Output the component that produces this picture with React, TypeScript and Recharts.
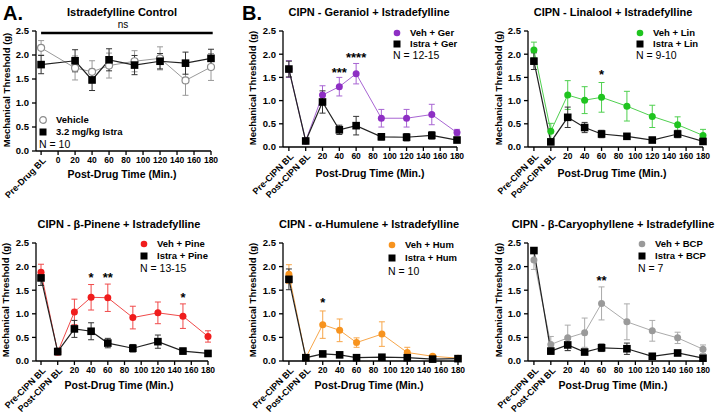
import React from 'react';
import { ComposedChart, Line, XAxis, YAxis, ErrorBar, Scatter, ReferenceLine } from 'recharts';

const FONT = '"Liberation Sans", Arial, sans-serif';

// time points (Pre BL plotted at -20, Post BL at 0)
const timesA = [-20, 20, 40, 60, 90, 120, 150, 180];
const times = [-20, 0, 20, 40, 60, 90, 120, 150, 180];
const xTicks = [-20, 0, 20, 40, 60, 80, 100, 120, 140, 160, 180];
const yTicks = [0, 0.5, 1, 1.5, 2, 2.5];
const yTickLabels = ['0.0', '0.5', '1.0', '1.5', '2.0', '2.5'];

// A. Istradefylline control
const ctrlVehMean = [2.15, 1.73, 1.65, 1.78, 1.87, 1.93, 1.47, 1.75];
const ctrlVehSem = [0.15, 0.25, 0.23, 0.26, 0.22, 0.24, 0.31, 0.28];
const ctrlIstraMean = [1.8, 1.88, 1.48, 1.9, 1.79, 1.87, 1.83, 1.93];
const ctrlIstraSem = [0.19, 0.23, 0.22, 0.23, 0.2, 0.16, 0.23, 0.19];

// Geraniol
const gerVehMean = [1.68, 0.13, 1.12, 1.3, 1.58, 0.62, 0.62, 0.7, 0.31];
const gerVehSem = [0.18, 0.03, 0.2, 0.2, 0.22, 0.19, 0.19, 0.22, 0.07];
const gerIstraMean = [1.68, 0.13, 0.97, 0.37, 0.46, 0.22, 0.21, 0.25, 0.15];
const gerIstraSem = [0.17, 0.03, 0.24, 0.1, 0.2, 0.07, 0.08, 0.08, 0.05];

// Linalool
const linVehMean = [2.09, 0.34, 1.12, 1.01, 1.07, 0.88, 0.66, 0.48, 0.25];
const linVehSem = [0.17, 0.17, 0.31, 0.29, 0.32, 0.32, 0.24, 0.17, 0.13];
const linIstraMean = [1.85, 0.11, 0.64, 0.42, 0.28, 0.23, 0.15, 0.28, 0.12];
const linIstraSem = [0.18, 0.04, 0.22, 0.11, 0.08, 0.06, 0.04, 0.08, 0.05];

// beta-Pinene
const pinVehMean = [1.88, 0.19, 1.04, 1.35, 1.34, 0.92, 1.02, 0.95, 0.52];
const pinVehSem = [0.17, 0.06, 0.27, 0.27, 0.29, 0.24, 0.23, 0.26, 0.12];
const pinIstraMean = [1.76, 0.2, 0.68, 0.63, 0.38, 0.27, 0.41, 0.21, 0.16];
const pinIstraSem = [0.16, 0.07, 0.18, 0.18, 0.1, 0.08, 0.14, 0.06, 0.06];

// alpha-Humulene
const humVehMean = [1.84, 0.07, 0.77, 0.65, 0.39, 0.57, 0.18, 0.1, 0.06];
const humVehSem = [0.2, 0.02, 0.29, 0.24, 0.1, 0.26, 0.11, 0.04, 0.02];
const humIstraMean = [1.73, 0.07, 0.15, 0.13, 0.07, 0.08, 0.07, 0.04, 0.05];
const humIstraSem = [0.22, 0.02, 0.03, 0.03, 0.02, 0.02, 0.02, 0.02, 0.02];

// beta-Caryophyllene
const bcpVehMean = [2.14, 0.35, 0.49, 0.6, 1.22, 0.83, 0.64, 0.49, 0.25];
const bcpVehSem = [0.2, 0.17, 0.27, 0.31, 0.35, 0.38, 0.22, 0.12, 0.09];
const bcpIstraMean = [2.34, 0.21, 0.34, 0.19, 0.28, 0.26, 0.1, 0.17, 0.06];
const bcpIstraSem = [0.05, 0.06, 0.12, 0.05, 0.08, 0.12, 0.03, 0.05, 0.04];

// significance marks
const gerStars = [{ t: 40, y: 1.66, label: '***' }, { t: 60, y: 1.98, label: '****' }];
const linStars = [{ t: 60, y: 1.62, label: '*' }];
const pinStars = [{ t: 40, y: 1.82, label: '*' }, { t: 60, y: 1.82, label: '**' }, { t: 150, y: 1.4, label: '*' }];
const humStars = [{ t: 20, y: 1.29, label: '*' }];
const bcpStars = [{ t: 60, y: 1.76, label: '**' }];

type Shape = 'open' | 'circle' | 'square';

const makeRows = (ts: number[], vm: number[], vs: number[], im: number[], is: number[]) =>
  ts.map((t, i) => ({ t, veh: vm[i], vehErr: vs[i], istra: im[i], istraErr: is[i] }));

const makeDot = (shape: Shape, color: string) => (props: any) => {
  const { cx, cy, index } = props;
  if (cx == null || cy == null) return <g key={index} />;
  if (shape === 'square') return <rect key={index} x={cx - 3.8} y={cy - 3.8} width={7.6} height={7.6} fill="#000" />;
  if (shape === 'open') return <circle key={index} cx={cx} cy={cy} r={3.5} fill="#fff" stroke={color} strokeWidth={1.2} />;
  return <circle key={index} cx={cx} cy={cy} r={3.5} fill={color} />;
};

const Txt = ({ x, y, children, size = 10, weight = 700, rotate = 0, anchor = 'center' }: any) => (
  <div
    style={{
      position: 'absolute', left: x, top: y, whiteSpace: 'nowrap', fontFamily: FONT, fontSize: size,
      fontWeight: weight, color: '#000', lineHeight: 1,
      transform: `translate(${anchor === 'left' ? '0' : '-50%'}, -50%) rotate(${rotate}deg)`,
    }}
  >
    {children}
  </div>
);

const Marker = ({ shape, color }: { shape: Shape; color: string }) => (
  <svg width={10} height={10} style={{ position: 'absolute', left: -5, top: -5 }}>
    {shape === 'square' ? <rect x={1.5} y={1.5} width={7} height={7} fill="#000" />
      : shape === 'open' ? <circle cx={5} cy={5} r={3.3} fill="#fff" stroke={color} strokeWidth={1.2} />
      : <circle cx={5} cy={5} r={3.3} fill={color} />}
  </svg>
);

interface PanelProps {
  box: { x: number; y: number; w: number; h: number };
  plot: { left: number; top: number; right: number; bottom: number };
  dMin: number;
  rows: any[];
  veh: { name: string; color: string; line: string; shape: Shape };
  stars?: { t: number; y: number; label: string }[];
  preLabel: string;
  postLabel: string;
  ns?: boolean;
}

const Y_W = 26;
const X_H = 45;

const renderYTick = (p: any) => {
  const i = yTicks.indexOf(Number(p.payload.value));
  return (
    <text x={p.x} y={p.y} dy="0.35em" textAnchor="end" fontSize={9.5} fontWeight={700} fontFamily={FONT} fill="#000">
      {i >= 0 ? yTickLabels[i] : p.payload.value}
    </text>
  );
};

const Panel = ({ box, plot, dMin, rows, veh, stars, preLabel, postLabel, ns }: PanelProps) => {
  const margin = {
    top: plot.top - box.y,
    left: plot.left - box.x - Y_W,
    right: box.x + box.w - plot.right,
    bottom: box.y + box.h - plot.bottom - X_H,
  };
  const renderTick = (p: any) => {
    const { x, y, payload } = p;
    const v = payload.value;
    const lbl = v === -20 ? preLabel : v === 0 ? postLabel : String(v);
    if (v === -20 || (v === 0 && postLabel !== '0')) {
      return (
        <text x={x + 3} y={y + 2} transform={`rotate(-45, ${x + 3}, ${y + 2})`} textAnchor="end"
          fontSize={9} fontWeight={700} fontFamily={FONT} fill="#000" dy="0.35em">{lbl}</text>
      );
    }
    return <text x={x} y={y} dy="0.71em" textAnchor="middle" fontSize={8.5} fontWeight={700} fontFamily={FONT} fill="#000">{lbl}</text>;
  };
  return (
    <div style={{ position: 'absolute', left: box.x, top: box.y }}>
      <ComposedChart width={box.w} height={box.h} data={rows} margin={margin}>
        <XAxis type="number" dataKey="t" domain={[dMin, 180]} ticks={xTicks} interval={0} tick={renderTick}
          height={X_H} tickSize={4} tickMargin={2} stroke="#000" strokeWidth={1.3} />
        <YAxis type="number" domain={[0, 2.5]} ticks={yTicks} width={Y_W} tickSize={4} tickMargin={3}
          interval={0} stroke="#000" strokeWidth={1.3} tick={renderYTick} />
        {ns && (
          <ReferenceLine segment={[{ x: -20, y: 2.46 }, { x: 182, y: 2.46 }]} stroke="#000" strokeWidth={2.5} ifOverflow="visible" />
        )}
        <Line dataKey="veh" stroke={veh.line} strokeWidth={1} isAnimationActive={false} dot={makeDot(veh.shape, veh.color)}>
          <ErrorBar dataKey="vehErr" width={3} stroke={veh.line} strokeWidth={1} direction="y" isAnimationActive={false} />
        </Line>
        <Line dataKey="istra" stroke="#222" strokeWidth={1.2} isAnimationActive={false} dot={makeDot('square', '#000')}>
          <ErrorBar dataKey="istraErr" width={3} stroke="#333" strokeWidth={1} direction="y" isAnimationActive={false} />
        </Line>
        {stars && (
          <Scatter data={stars} dataKey="y" isAnimationActive={false}
            shape={(p: any) => (
              <text x={p.cx} y={p.cy} dy={7} textAnchor="middle" fontSize={13} fontWeight={700} fontFamily={FONT} fill="#000">
                {p.payload.label}
              </text>
            )} />
        )}
      </ComposedChart>
    </div>
  );
};

const Legend = ({ x, y, gap, veh, vehName, istraName, n }: any) => (
  <>
    <div style={{ position: 'absolute', left: x, top: y }}><Marker shape={veh.shape} color={veh.color} /></div>
    <Txt x={x + 13} y={y} anchor="left" size={9.5}>{vehName}</Txt>
    <div style={{ position: 'absolute', left: x, top: y + gap }}><Marker shape="square" color="#000" /></div>
    <Txt x={x + 13} y={y + gap} anchor="left" size={9.5}>{istraName}</Txt>
    <Txt x={x - 4} y={y + 2 * gap} anchor="left" size={10.5} weight={400}>{n}</Txt>
  </>
);

const ctrlVeh = { name: 'Vehicle', color: '#8c8c8c', line: '#9a9a9a', shape: 'open' as Shape };
const gerVeh = { name: 'Veh + Ger', color: '#8e2fc4', line: '#a865d3', shape: 'circle' as Shape };
const linVeh = { name: 'Veh + Lin', color: '#1fc41f', line: '#4fd04f', shape: 'circle' as Shape };
const pinVeh = { name: 'Veh + Pine', color: '#f01c1c', line: '#f04a4a', shape: 'circle' as Shape };
const humVeh = { name: 'Veh + Hum', color: '#f7931e', line: '#f7a64a', shape: 'circle' as Shape };
const bcpVeh = { name: 'Veh + BCP', color: '#9a9a9a', line: '#ababab', shape: 'circle' as Shape };

export default function App() {
  return (
    <div style={{ position: 'absolute', left: 0, top: 0, width: 720, height: 414, background: '#fff', overflow: 'hidden', fontFamily: FONT }}>
      <Panel box={{ x: 0, y: 0, w: 240, h: 214 }} plot={{ left: 36, top: 31, right: 211, bottom: 151 }} dMin={-26}
        rows={makeRows(timesA, ctrlVehMean, ctrlVehSem, ctrlIstraMean, ctrlIstraSem)} veh={ctrlVeh}
        preLabel="Pre-Drug BL" postLabel="0" ns />
      <Panel box={{ x: 240, y: 0, w: 240, h: 214 }} plot={{ left: 283, top: 31, right: 457, bottom: 147 }} dMin={-27}
        rows={makeRows(times, gerVehMean, gerVehSem, gerIstraMean, gerIstraSem)} veh={gerVeh}
        stars={gerStars} preLabel="Pre-CIPN BL" postLabel="Post-CIPN BL" />
      <Panel box={{ x: 480, y: 0, w: 240, h: 214 }} plot={{ left: 528, top: 31, right: 703, bottom: 147 }} dMin={-27}
        rows={makeRows(times, linVehMean, linVehSem, linIstraMean, linIstraSem)} veh={linVeh}
        stars={linStars} preLabel="Pre-CIPN BL" postLabel="Post-CIPN BL" />
      <Panel box={{ x: 0, y: 207, w: 240, h: 207 }} plot={{ left: 36, top: 243, right: 208, bottom: 361 }} dMin={-26}
        rows={makeRows(times, pinVehMean, pinVehSem, pinIstraMean, pinIstraSem)} veh={pinVeh}
        stars={pinStars} preLabel="Pre-CIPN BL" postLabel="Post-CIPN BL" />
      <Panel box={{ x: 240, y: 207, w: 240, h: 207 }} plot={{ left: 283, top: 243, right: 458, bottom: 361 }} dMin={-27}
        rows={makeRows(times, humVehMean, humVehSem, humIstraMean, humIstraSem)} veh={humVeh}
        stars={humStars} preLabel="Pre-CIPN BL" postLabel="Post-CIPN BL" />
      <Panel box={{ x: 480, y: 207, w: 240, h: 207 }} plot={{ left: 528, top: 243, right: 703, bottom: 361 }} dMin={-27}
        rows={makeRows(times, bcpVehMean, bcpVehSem, bcpIstraMean, bcpIstraSem)} veh={bcpVeh}
        stars={bcpStars} preLabel="Pre-CIPN BL" postLabel="Post-CIPN BL" />

      {/* panel letters and titles */}
      <Txt x={3} y={13} anchor="left" size={20}>A.</Txt>
      <Txt x={242} y={13} anchor="left" size={20}>B.</Txt>
      <Txt x={122} y={12} size={11}>Istradefylline Control</Txt>
      <Txt x={123} y={25} size={10} weight={400}>ns</Txt>
      <Txt x={369} y={12} size={11}>CIPN - Geraniol + Istradefylline</Txt>
      <Txt x={613} y={12} size={11}>CIPN - Linalool + Istradefylline</Txt>
      <Txt x={119} y={224} size={11}>CIPN - β-Pinene + Istradefylline</Txt>
      <Txt x={369} y={224} size={11}>CIPN - α-Humulene + Istradefylline</Txt>
      <Txt x={613} y={224} size={11}>CIPN - β-Caryophyllene + Istradefylline</Txt>

      {/* axis titles */}
      <Txt x={7} y={90} size={9.5} rotate={-90}>Mechanical Threshold (g)</Txt>
      <Txt x={253} y={88} size={9.5} rotate={-90}>Mechanical Threshold (g)</Txt>
      <Txt x={499} y={88} size={9.5} rotate={-90}>Mechanical Threshold (g)</Txt>
      <Txt x={6} y={300} size={9.5} rotate={-90}>Mechanical Threshold (g)</Txt>
      <Txt x={253} y={300} size={9.5} rotate={-90}>Mechanical Threshold (g)</Txt>
      <Txt x={499} y={300} size={9.5} rotate={-90}>Mechanical Threshold (g)</Txt>
      <Txt x={122} y={174} size={10.5}>Post-Drug Time (Min.)</Txt>
      <Txt x={370} y={173} size={10.5}>Post-Drug Time (Min.)</Txt>
      <Txt x={612} y={173} size={10.5}>Post-Drug Time (Min.)</Txt>
      <Txt x={119} y={385} size={10.5}>Post-Drug Time (Min.)</Txt>
      <Txt x={369} y={385} size={10.5}>Post-Drug Time (Min.)</Txt>
      <Txt x={613} y={385} size={10.5}>Post-Drug Time (Min.)</Txt>

      {/* legends */}
      <Legend x={43} y={120} gap={12} veh={ctrlVeh} vehName="Vehicle" istraName="3.2 mg/kg Istra" n="N = 10" />
      <Legend x={397} y={33} gap={11} veh={gerVeh} vehName="Veh + Ger" istraName="Istra + Ger" n="N = 12-15" />
      <Legend x={640} y={33} gap={11} veh={linVeh} vehName="Veh + Lin" istraName="Istra + Lin" n="N = 9-10" />
      <Legend x={144} y={244} gap={12} veh={pinVeh} vehName="Veh + Pine" istraName="Istra + Pine" n="N = 13-15" />
      <Legend x={392} y={245} gap={13} veh={humVeh} vehName="Veh + Hum" istraName="Istra + Hum" n="N = 10" />
      <Legend x={642} y={244} gap={12} veh={bcpVeh} vehName="Veh + BCP" istraName="Istra + BCP" n="N = 7" />
    </div>
  );
}
